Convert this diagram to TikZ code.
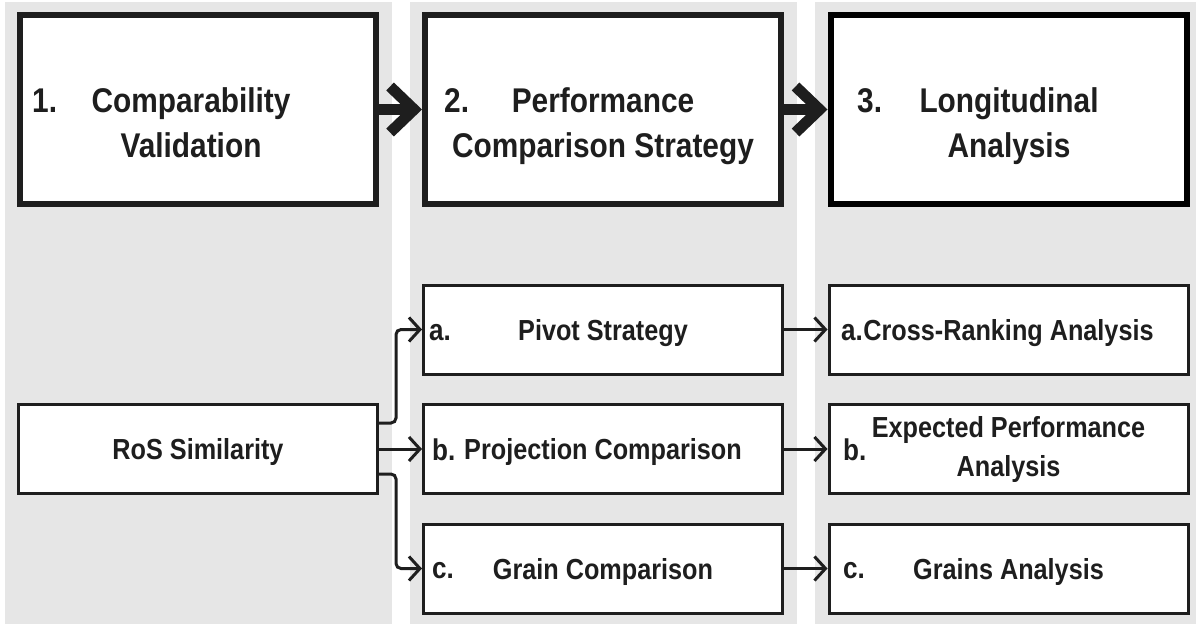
\documentclass[tikz,border=0pt]{standalone}
\usepackage{fontspec}
\setmainfont{Liberation Sans}[FakeStretch=0.87]
\usetikzlibrary{arrows.meta}
\definecolor{colgrey}{HTML}{E6E6E6}
\definecolor{ink}{HTML}{1E1E1E}

\begin{document}
\begin{tikzpicture}[x=1pt,y=-1pt,
  big node/.style={rectangle,draw=ink,line width=6pt,fill=white,minimum width=356pt,minimum height=189pt},
  small node/.style={rectangle,draw=ink,line width=3pt,fill=white,minimum width=359pt,minimum height=89pt,
    font=\bfseries\fontsize{29}{39}\selectfont,text=ink,align=center,text height=21pt,text depth=0pt},
  head node/.style={font=\bfseries\fontsize{34.3}{45}\selectfont,text=ink,inner sep=0pt,align=center},
  num node/.style={font=\bfseries\fontsize{34.3}{45}\selectfont,text=ink,inner sep=0pt,anchor=base west},
  label node/.style={font=\bfseries\fontsize{30}{39}\selectfont,text=ink,inner sep=0pt,anchor=base west},
  big arrow/.style={line width=11pt,draw=ink,-{Straight Barb[length=24pt,width=46pt]}},
  small arrow/.style={line width=3pt,draw=ink,-{Straight Barb[length=11pt,width=24pt]}}]
  \useasboundingbox (0,0) rectangle (1196,624);

  % columns
  \fill[colgrey] (5,2) rectangle (392,624);
  \fill[colgrey] (410,2) rectangle (797,624);
  \fill[colgrey] (815,2) rectangle (1196,624);

  % stages
  \node[big node] (s1) at (198,109.5) {};
  \node[big node] (s2) at (603,109.5) {};
  \node[big node,draw=black] (s3) at (1008.5,109.5) {};
  \node[num node] (n1) at (32,112) {1.};
  \node[num node] (n2) at (444,112) {2.};
  \node[num node] (n3) at (857,112) {3.};
  \node[head node] (t1) at (191,122.5) {Comparability\\Validation};
  \node[head node] (t2) at (603,126) {Performance\\Comparison Strategy};
  \node[head node] (t3) at (1009,126) {Longitudinal\\Analysis};

  % steps
  \node[small node] (ros) at (198,449) {RoS Similarity};
  \node[small node] (pa) at (603,329.5) {Pivot Strategy};
  \node[small node] (pb) at (603,449) {Projection Comparison};
  \node[small node] (pc) at (603,568.5) {Grain Comparison};
  \node[small node] (la) at (1008.5,329.5) {Cross-Ranking Analysis};
  \node[small node,text height=,text depth=] (lb) at (1008.5,449) {Expected Performance\\Analysis};
  \node[small node] (lc) at (1008.5,568.5) {Grains Analysis};
  \node[label node] (pla) at (429,340) {a.};
  \node[label node] (plb) at (432,460) {b.};
  \node[label node] (plc) at (432,578) {c.};
  \node[label node] (lla) at (841,340) {a.};
  \node[label node] (llb) at (843,460) {b.};
  \node[label node] (llc) at (843,578) {c.};

  \path
   (s1) edge[big arrow] (s2)
   (s2) edge[big arrow] (s3)
   (ros) edge[small arrow] (pb)
   (pa) edge[small arrow] (la)
   (pb) edge[small arrow] (lb)
   (pc) edge[small arrow] (lc);
  \draw[small arrow,rounded corners=5pt] ([yshift=26pt]ros.east) -- ++(17,0) |- (pa.west);
  \draw[small arrow,rounded corners=5pt] ([yshift=-25pt]ros.east) -- ++(17,0) |- (pc.west);
\end{tikzpicture}
\end{document}
